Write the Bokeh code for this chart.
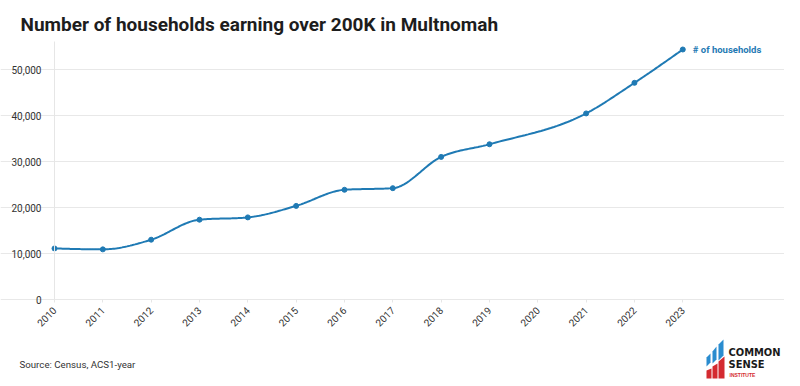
import numpy as np
from bokeh.plotting import figure
from bokeh.models import Label, FixedTicker, NumeralTickFormatter, Range1d, PolyAnnotation
from bokeh.embed import file_html
from bokeh.resources import INLINE

# ---------------- data ----------------
years = [2010, 2011, 2012, 2013, 2014, 2015, 2016, 2017, 2018, 2019, 2020, 2021, 2022, 2023]
households = [11100, 10900, 13000, 17350, 17850, 20350, 23850, 24200, 31000, 33750, None, 40450, 47100, 54350]
y_ticks = [0, 10000, 20000, 30000, 40000, 50000]
x_ticks = years
title_text = "Number of households earning over 200K in Multnomah"
source_text = "Source: Census, ACS1-year"
series_label = "# of households"
logo_words = ["COMMON", "SENSE", "INSTITUTE"]

BLUE = "#1f7ab4"
TXT = "#333333"


# ------------- monotone-x curve (as d3 curveMonotoneX) -------------
def monotone_curve(xs, ys, n=30):
    x = np.asarray(xs, float)
    y = np.asarray(ys, float)
    k = len(x)
    h = np.diff(x)
    s = np.diff(y) / h
    t = np.zeros(k)
    for i in range(1, k - 1):
        h0, h1 = h[i - 1], h[i]
        s0, s1 = s[i - 1], s[i]
        pp = (s0 * h1 + s1 * h0) / (h0 + h1)
        t[i] = (np.sign(s0) + np.sign(s1)) * min(abs(s0), abs(s1), 0.5 * abs(pp))
    t[0] = (3 * s[0] - t[1]) / 2
    t[-1] = (3 * s[-1] - t[-2]) / 2
    cx, cy = [], []
    for i in range(k - 1):
        u = np.linspace(0, 1, n, endpoint=(i == k - 2))
        h00 = 2 * u**3 - 3 * u**2 + 1
        h10 = u**3 - 2 * u**2 + u
        h01 = -2 * u**3 + 3 * u**2
        h11 = u**3 - u**2
        cx.extend(x[i] + u * h[i])
        cy.extend(h00 * y[i] + h10 * h[i] * t[i] + h01 * y[i + 1] + h11 * h[i] * t[i + 1])
    return cx, cy


vx = [yr for yr, v in zip(years, households) if v is not None]
vy = [v for v in households if v is not None]
cx, cy = monotone_curve(vx, vy)

# ---------------- layout (one frame covering the whole canvas) ----------------
W, H = 784, 384
PLOT_L, PLOT_B = 54, 299          # pixel position of (2010, 0)
PX_PER_YEAR = 48.33
PX_PER_UNIT = 46.0 / 10000.0
Y_TOP = 56000                     # top of value axis
GRID_END = 2023.05

x0 = 2010 - PLOT_L / PX_PER_YEAR
x1 = 2010 + (W - PLOT_L) / PX_PER_YEAR
y0 = -(H - PLOT_B) / PX_PER_UNIT
y1 = PLOT_B / PX_PER_UNIT

p = figure(frame_width=W, frame_height=H,
           min_border=0, min_border_left=0, min_border_right=0,
           min_border_top=0, min_border_bottom=0,
           x_range=Range1d(x0, x1), y_range=Range1d(y0, y1),
           output_backend="svg", toolbar_location=None)
p.outline_line_color = None
p.background_fill_color = "white"
p.border_fill_color = "white"

p.xgrid.grid_line_color = None
p.ygrid.ticker = FixedTicker(ticks=y_ticks)
p.ygrid.grid_line_color = "#e8e8e8"
p.ygrid.bounds = (2010, GRID_END)

yax = p.yaxis[0]
yax.fixed_location = 2010
yax.bounds = (0, Y_TOP)
yax.ticker = FixedTicker(ticks=y_ticks)
yax.formatter = NumeralTickFormatter(format="0,0")
yax.major_tick_line_color = None
yax.minor_tick_line_color = None
yax.axis_line_color = "#e6e6e6"
yax.major_label_text_font = "Roboto"
yax.major_label_text_font_size = "10px"
yax.major_label_text_color = TXT
yax.major_label_standoff = 7

xax = p.xaxis[0]
xax.fixed_location = 0
xax.bounds = (2010, 2023)
xax.ticker = FixedTicker(ticks=x_ticks)
xax.axis_line_color = None
xax.major_tick_line_color = "#e6e6e6"
xax.major_tick_in = 0
xax.major_tick_out = 3
xax.minor_tick_line_color = None
xax.major_label_orientation = np.pi / 4
xax.major_label_text_font = "Roboto"
xax.major_label_text_font_size = "10px"
xax.major_label_text_color = TXT
xax.major_label_standoff = 6

p.line(cx, cy, line_color=BLUE, line_width=2)
p.scatter(vx, vy, size=5, color=BLUE)

p.add_layout(Label(x=vx[-1], y=vy[-1], text=series_label, x_offset=10,
                   text_baseline="middle", text_font="Roboto", text_font_style="bold",
                   text_font_size="9.5px", text_color=BLUE))


# screen units: x from left of canvas, y from bottom of canvas
def sy(page_y):
    return H - page_y


p.add_layout(Label(x=20, y=sy(24), x_units="screen", y_units="screen",
                   text=title_text, text_font="Roboto", text_font_style="bold",
                   text_font_size="19px", text_color="#1d1d1d", text_baseline="alphabetic"))
p.add_layout(Label(x=19, y=sy(364), x_units="screen", y_units="screen",
                   text=source_text, text_font="Roboto",
                   text_font_size="9.7px", text_color=TXT, text_baseline="alphabetic"))

# logo (decoration)
LB = "#2a8ccf"
LR = "#d42a30"
blue_shapes = [
    [(706, 357), (710, 353), (710, 362), (706, 366)],
    [(712, 351), (716, 346), (716, 359), (712, 363)],
    [(718, 344), (723, 339), (723, 355), (718, 360)],
]
red_shapes = [
    [(706, 370), (711, 368), (711, 378), (706, 378)],
    [(712, 366), (717, 363), (717, 378), (712, 378)],
    [(718, 361), (724, 356), (724, 378), (718, 378)],
]
for shp, col in [(s, LB) for s in blue_shapes] + [(s, LR) for s in red_shapes]:
    p.add_layout(PolyAnnotation(xs=[a for a, b in shp], ys=[sy(b) for a, b in shp],
                                xs_units="screen", ys_units="screen",
                                fill_color=col, fill_alpha=1, line_color=None))
NARROW = "Liberation Sans Narrow, DejaVu Sans Condensed, sans-serif"
p.add_layout(Label(x=728, y=sy(358), x_units="screen", y_units="screen",
                   text=logo_words[0], text_font=NARROW, text_font_style="bold",
                   text_font_size="11px", text_color="#1a1a1a"))
p.add_layout(Label(x=728, y=sy(370), x_units="screen", y_units="screen",
                   text=logo_words[1], text_font=NARROW, text_font_style="bold",
                   text_font_size="11px", text_color="#1a1a1a"))
p.add_layout(Label(x=729, y=sy(377), x_units="screen", y_units="screen",
                   text=logo_words[2], text_font="Liberation Sans", text_font_style="bold",
                   text_font_size="5px", text_color=LR))

open("out.html", "w").write(file_html(p, INLINE))
